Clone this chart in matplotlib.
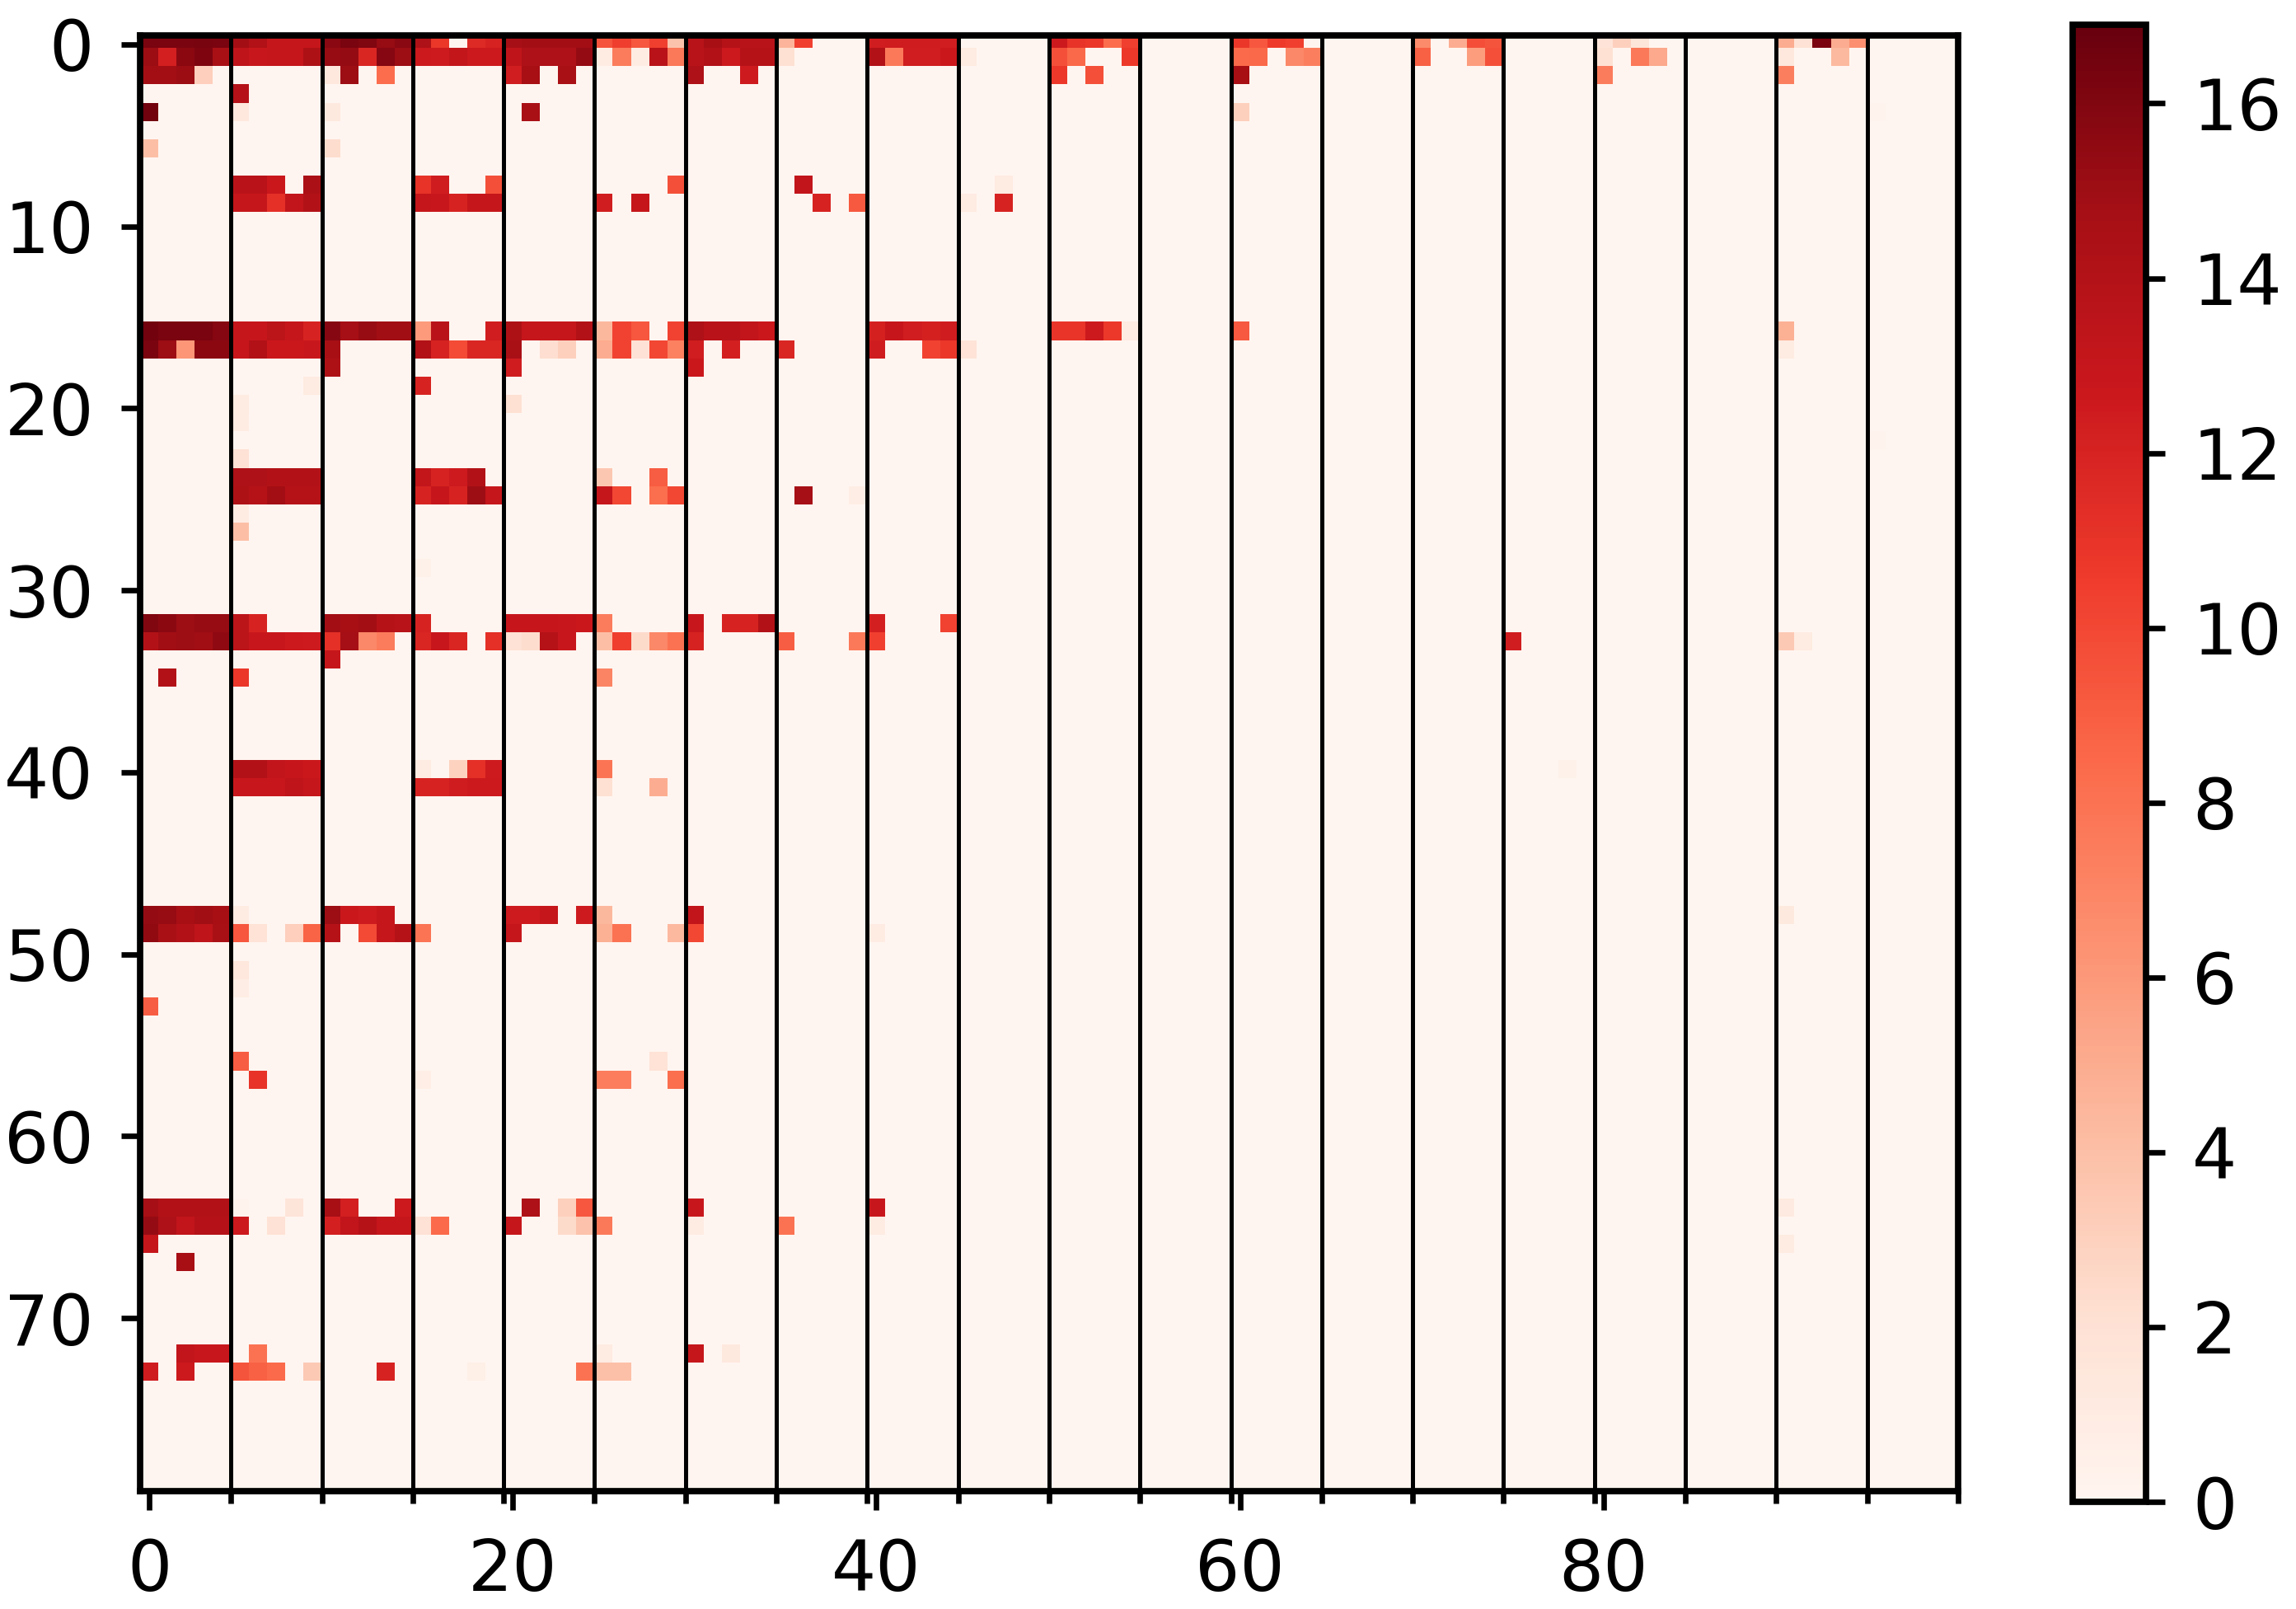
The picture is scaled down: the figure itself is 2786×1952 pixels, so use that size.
import numpy as np
import matplotlib
matplotlib.use("Agg")
import matplotlib.pyplot as plt

W, H = 2786, 1952
N_ROWS, N_COLS = 80, 100
VMAX = 16.9

# each row is a list of runs: (first column)
row_0 = [(0, [16.2, 16.2, 16.2, 16.3, 16.2, 14.8, 14.1, 13, 13, 13, 15.7, 16.2, 16, 15.2, 15.7, 14.2, 10.8, 0, 11.5, 12,
              14.7, 14.8, 14.8, 14.8, 14.8, 9.5, 10.4, 9.3, 10.3, 3.7, 13.7, 14.6, 13.8, 13.7, 13.7, 4.5, 10.3]),
         (40, [12.3, 12.4, 12.4, 12.4, 12.3]), (50, [12.6, 11, 10.8, 8.3, 10.3]), (60, [10.8, 9.3, 10.6, 10.3]),
         (70, [6.7, 0, 4.9, 9.7, 9.4]), (80, [1.7, 3, 1.6]), (90, [5, 1.9, 16.2, 5, 6.5])]
row_1 = [(0, [15.1, 12.2, 15.6, 16.1, 14.5, 13.4, 12.8, 13, 13, 14.3, 15.2, 15.3, 11.8, 15.8, 15, 12.6, 12.5, 13.1, 12.6, 12.6,
              13.3, 14.2, 14.2, 14.2, 15.3, 0.9, 7.5, 0.9, 13.6, 7.7, 13.7, 14.1, 12.6, 13.8, 13.8, 2]),
         (40, [14.1, 7.6, 12.3, 12.3, 12.7, 1]), (50, [9.6, 8.5, 0, 0, 10.7]), (60, [8.4, 8.5, 0, 6.8, 7.3]),
         (70, [8.8, 0, 0, 5.8, 9.6]), (80, [2, 0, 7.7, 5.1]), (90, [1.3, 0, 0, 4.3])]
row_2 = [(0, [14.8, 14.8, 15.1, 3.1]), (10, [1.4, 15, 0, 8.3]), (20, [12.3, 14.6, 0, 14.5]), (30, [14.2, 0, 0, 12.5]),
         (50, [10.7, 0, 9.6]), (60, [14.6]), (80, [7.5]), (90, [7.3])]
row_3 = [(5, [13.9])]
row_4 = [(0, [16.5]), (5, [1.3]), (10, [1.2]), (21, [14.5]), (60, [3]), (95, [0.2])]
row_6 = [(0, [4]), (10, [2.3])]
row_8 = [(5, [13.6, 13.6, 12.7, 0, 14.4]), (15, [11, 12.4, 0, 0, 9.6]), (29, [9.6]), (36, [13.2]), (47, [1])]
row_9 = [(5, [13, 13, 11.2, 13.2, 14]), (15, [13, 12.8, 12, 13, 13]), (25, [12.3, 0, 13]), (37, [12, 0, 9.2]), (45, [1, 0, 12])]
row_16 = [(0, [16.5, 16.2, 16.2, 16.2, 15.8, 13, 12.9, 13.5, 13, 12, 15.8, 14.7, 15.2, 14.9, 14.9, 5.9, 13.6, 0, 0, 12.3,
               14.3, 13, 13, 13, 14, 4.4, 10.2, 9.3, 0, 10.2, 14.2, 13.6, 13.6, 13.2, 12.7]),
          (40, [12.1, 12.9, 12.3, 12.1, 12.4]), (50, [10.9, 10.9, 12.6, 10.7, 1]), (60, [9.2]), (90, [4.8])]
row_17 = [(0, [16.2, 15, 6.1, 15.6, 15.6, 12.9, 14.1, 12.7, 12.7, 12.8, 14.6]), (15, [14.1, 12, 9.8, 11.8, 11.8, 14.5, 0, 2.2, 3]),
          (25, [5, 10.2, 1.9, 10, 7.2, 12.3, 0, 12.2, 0, 0, 11.8]), (40, [12.4, 0, 0, 10.2, 10.8, 1.8]), (90, [1])]
row_18 = [(10, [14.3]), (20, [12.4]), (30, [12.7])]
row_19 = [(9, [1]), (15, [12])]
row_20 = [(5, [1]), (20, [2])]
row_21 = [(5, [0.9])]
row_22 = [(95, [0.2])]
row_23 = [(5, [1.9])]
row_24 = [(5, [14.2, 14.2, 14, 14, 14]), (15, [13.1, 12, 12.5, 14]), (25, [3.5, 0, 0, 9])]
row_25 = [(5, [14.3, 13.8, 14.8, 13.8, 13.8]), (15, [12, 12.9, 12, 15, 13]), (25, [13, 10, 0, 8.2, 10]), (36, [14.7]), (39, [0.8])]
row_26 = [(5, [0.9])]
row_27 = [(5, [4])]
row_29 = [(15, [0.4])]
row_32 = [(0, [16, 15.6, 15, 15.2, 15.2, 13.5, 12]), (10, [14.8, 14.6, 14.8, 13.8, 13.7, 12]),
          (20, [12.9, 12.9, 12.9, 12.8, 12.7, 7.5]), (30, [12.8, 0, 12, 12, 14]), (40, [12.2, 0, 0, 0, 10.2])]
row_33 = [(0, [14, 14.9, 15, 14.9, 15.5, 13.5, 12.8, 12.8, 12.6, 12.5, 11.2, 14.7, 6.8, 7.5, 0, 11.8, 12.8, 11.8, 0, 11.2,
               1.9, 2.3, 13.8, 12.8, 0, 4, 10.4, 2.4, 6.8, 8, 12, 0, 0, 0, 0, 9, 0, 0, 0, 7.6, 10.3]),
          (75, [12.3]), (90, [3.4, 1])]
row_34 = [(10, [13])]
row_35 = [(1, [14]), (5, [10.8]), (25, [7])]
row_40 = [(5, [14, 14, 13.2, 12.9, 12.7]), (15, [1, 0, 2.9, 11.2, 12.5]), (25, [7.8]), (78, [0.4])]
row_41 = [(5, [12.8, 12.8, 12.8, 13.4, 13]), (15, [12, 12, 12.4, 12.6, 12.6]), (25, [2, 0, 0, 4.9])]
row_48 = [(0, [15.3, 15.2, 14.6, 14.9, 14.6, 0.9]), (10, [15, 12.7, 12.5, 13]), (20, [12.5, 12.5, 13, 0, 12.5, 4.4]),
          (30, [13.2]), (90, [1.2])]
row_49 = [(0, [15.4, 14.5, 14.1, 13.4, 14.5, 9.3, 1.8, 0, 3.1, 8.7, 13.8, 0, 9.9, 13, 13.8, 7.9]), (20, [13]),
          (25, [4.8, 8, 0, 0, 4.3, 10]), (40, [0.9])]
row_51 = [(5, [1.4])]
row_52 = [(5, [0.8])]
row_53 = [(0, [9])]
row_56 = [(5, [9]), (28, [1.8])]
row_57 = [(6, [11]), (15, [0.7]), (25, [7.4, 7.4, 0, 0, 8.2])]
row_64 = [(0, [14.7, 14, 14.1, 14, 14, 0.2, 0, 0, 1.6]), (10, [14.6, 12.2, 0, 0, 12.6]), (21, [14.2, 0, 3, 9.3]),
          (30, [12.8]), (40, [12.8]), (90, [1.1])]
row_65 = [(0, [15.3, 14.2, 13.2, 13.9, 13.9, 12.6, 0, 1.9]), (10, [12.2, 13.2, 13.8, 13, 13, 1.9, 8.4]),
          (20, [13, 0, 0, 2.4, 3.8, 7.6]), (30, [1]), (35, [8]), (40, [1])]
row_66 = [(0, [13]), (90, [1])]
row_67 = [(2, [14.6])]
row_72 = [(2, [13.2, 12.8, 12.8, 0, 8]), (25, [1]), (30, [13, 0, 1.2])]
row_73 = [(0, [12.4, 0, 12.6, 0, 0, 9.4, 8.8, 8.4, 0, 3.4]), (13, [12]), (18, [0.6]), (24, [8, 3.9, 3.9])]

rows = {0: row_0, 1: row_1, 2: row_2, 3: row_3, 4: row_4, 6: row_6, 8: row_8, 9: row_9, 16: row_16, 17: row_17,
        18: row_18, 19: row_19, 20: row_20, 21: row_21, 22: row_22, 23: row_23, 24: row_24, 25: row_25, 26: row_26,
        27: row_27, 29: row_29, 32: row_32, 33: row_33, 34: row_34, 35: row_35, 40: row_40, 41: row_41, 48: row_48,
        49: row_49, 51: row_51, 52: row_52, 53: row_53, 56: row_56, 57: row_57, 64: row_64, 65: row_65, 66: row_66,
        67: row_67, 72: row_72, 73: row_73}

x_labels = [0, 20, 40, 60, 80]
y_labels = [0, 10, 20, 30, 40, 50, 60, 70]
cbar_labels = [0, 2, 4, 6, 8, 10, 12, 14, 16]

matrix = np.zeros((N_ROWS, N_COLS))
for r, runs in rows.items():
    for start, values in runs:
        matrix[r, start:start + len(values)] = values


def box(left, top, right, bottom):
    # pixel box of the reference -> figure fractions
    return [left / W, 1 - bottom / H, (right - left) / W, (bottom - top) / H]


plt.rcParams["font.size"] = 20.5
plt.rcParams["axes.linewidth"] = 1.85

fig = plt.figure(figsize=(W / 300, H / 300), dpi=300)
ax = fig.add_axes(box(170, 42.8, 2376, 1809))

# the image sits slightly above the tick grid in the reference
im = ax.imshow(matrix, cmap="Reds", vmin=0, vmax=VMAX, aspect="auto", interpolation="nearest",
               extent=(-0.5, N_COLS - 0.5, 79.46, -0.77))
ax.set_xlim(-0.5, N_COLS - 0.5)
ax.set_ylim(N_ROWS - 0.5, -0.5)

for x in np.arange(4.5, N_COLS - 1, 5):
    ax.axvline(x, color="black", lw=1.2)

ax.set_xticks(x_labels)
ax.set_yticks(y_labels)
ax.set_xticks(np.arange(4.5, N_COLS, 5), minor=True)
ax.tick_params(axis="both", which="major", length=5.5, width=1.6, pad=8)
ax.tick_params(axis="x", which="minor", length=3.5, width=1.6)

cax = fig.add_axes(box(2515, 30, 2604, 1822))
cb = fig.colorbar(im, cax=cax)
cb.set_ticks(cbar_labels)
cb.ax.tick_params(length=5.5, width=1.6, pad=8)
cb.outline.set_linewidth(1.85)

fig.savefig("out.png", dpi=300)
